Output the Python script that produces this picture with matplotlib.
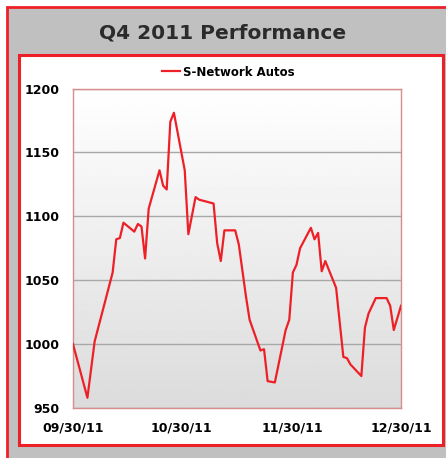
import numpy as np
import pandas as pd
import matplotlib
matplotlib.use("Agg")
import matplotlib.pyplot as plt
import matplotlib.dates as mdates
from matplotlib.patches import Rectangle

# values
dates = ["2011-09-30", "2011-10-04", "2011-10-06", "2011-10-11", "2011-10-12",
         "2011-10-13", "2011-10-14", "2011-10-17", "2011-10-18", "2011-10-19",
         "2011-10-20", "2011-10-21", "2011-10-24", "2011-10-25", "2011-10-26",
         "2011-10-27", "2011-10-28", "2011-10-31", "2011-11-01", "2011-11-03",
         "2011-11-04", "2011-11-08", "2011-11-09", "2011-11-10", "2011-11-11",
         "2011-11-14", "2011-11-15", "2011-11-17", "2011-11-18", "2011-11-21",
         "2011-11-22", "2011-11-23", "2011-11-25", "2011-11-28", "2011-11-29",
         "2011-11-30", "2011-12-01", "2011-12-02", "2011-12-05", "2011-12-06",
         "2011-12-07", "2011-12-08", "2011-12-09", "2011-12-12", "2011-12-14",
         "2011-12-15", "2011-12-16", "2011-12-19", "2011-12-20", "2011-12-21",
         "2011-12-23", "2011-12-26", "2011-12-27", "2011-12-28", "2011-12-30"]
valores = [1000, 958, 1002, 1056, 1082,
           1083, 1095, 1088, 1094, 1092,
           1067, 1106, 1136, 1124, 1121,
           1174, 1181, 1136, 1086, 1115,
           1113, 1110, 1079, 1065, 1089,
           1089, 1078, 1037, 1019, 995,
           996, 971, 970, 1011, 1019,
           1056, 1062, 1075, 1091, 1082,
           1087, 1057, 1065, 1044, 990,
           989, 984, 975, 1013, 1024,
           1036, 1036, 1030, 1011, 1030]
serie = "S-Network Autos"
titulo = "Q4 2011 Performance"
ticks_x = ["2011-09-30", "2011-10-30", "2011-11-30", "2011-12-30"]
ticks_y = [950, 1000, 1050, 1100, 1150, 1200]

W, H = 446, 458
rojo = "#ee2027"

fig = plt.figure(figsize=(W / 100, H / 100), dpi=100)

# paneles de fondo (por debajo de los ejes)
fig.patches.append(Rectangle((7 / W, -0.05), 1.1, 1 - 7 / H + 0.05, transform=fig.transFigure,
                             facecolor="#c0c0c0", edgecolor=rojo, linewidth=2, zorder=-3))
fig.patches.append(Rectangle((19 / W, 13 / H), (443 - 19) / W, (445 - 55) / H, transform=fig.transFigure,
                             facecolor="white", edgecolor=rojo, linewidth=2.2, zorder=-2))

fig.text(0.5, 1 - 33 / H, titulo, ha="center", va="center", fontsize=14.5,
         fontweight="bold", color="#2b2b2b")

ax = fig.add_axes([73 / W, 1 - 408 / H, (401 - 73) / W, (408 - 88.5) / H])

x = pd.to_datetime(dates)
ax.plot(x, valores, color=rojo, lw=1.6, label=serie, zorder=3)

# degradado del fondo
grad = np.linspace(0.86, 1.0, 256).reshape(-1, 1)
ax.imshow(grad, extent=[0, 1, 0, 1], transform=ax.transAxes, aspect="auto",
          cmap="gray", vmin=0, vmax=1, origin="lower", zorder=0)

ax.set_xlim(pd.Timestamp("2011-09-30"), pd.Timestamp("2011-12-30"))
ax.set_ylim(950, 1200)
ax.set_yticks(ticks_y)
ax.set_xticks(pd.to_datetime(ticks_x))
ax.xaxis.set_major_formatter(mdates.DateFormatter("%m/%d/%y"))
ax.grid(axis="y", color="#a8a8a8", lw=1, zorder=1)
ax.tick_params(length=0, pad=10, labelsize=9)
for lab in ax.get_xticklabels() + ax.get_yticklabels():
    lab.set_fontweight("bold")
for s in ax.spines.values():
    s.set_color("#d98c8c")
    s.set_linewidth(1)

fig.legend(loc="center", bbox_to_anchor=(228 / W, 1 - 72 / H), frameon=False,
           prop={"weight": "bold", "size": 8.5}, handlelength=1.6, handletextpad=0.2)

fig.savefig("out.png", dpi=100)
